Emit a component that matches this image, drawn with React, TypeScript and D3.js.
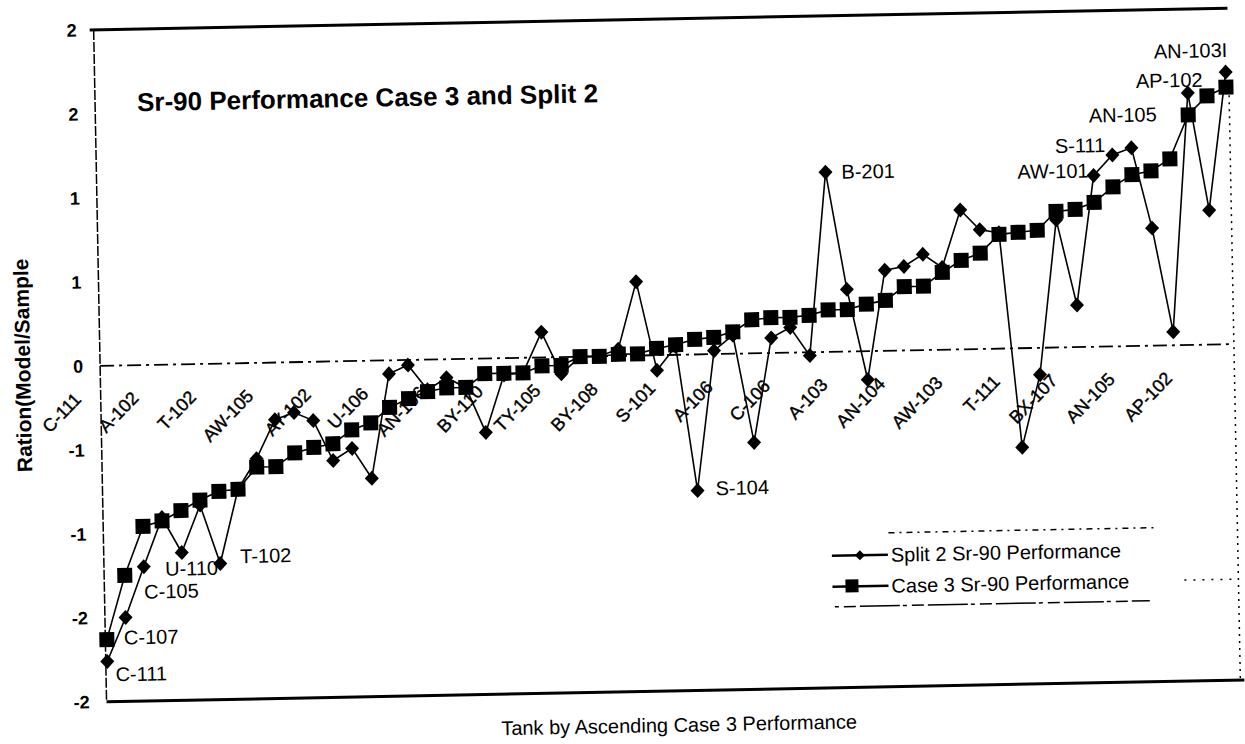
import * as d3 from 'd3';
import { useEffect, useRef } from 'react';

// tank names shown on the category axis (one every third tank)
const axisTanks = ['C-111', 'A-102', 'T-102', 'AW-105', 'AY-102', 'U-106', 'AN-106', 'BY-110', 'TY-105', 'BY-108',
  'S-101', 'A-106', 'C-106', 'A-103', 'AN-104', 'AW-103', 'T-111', 'BX-107', 'AN-105', 'AP-102'];
const labelEvery = 3;

// Case 3 ratio, tanks sorted ascending
const case3 = [-1.63, -1.25, -0.96, -0.93, -0.87, -0.81, -0.76, -0.75, -0.62, -0.62,
  -0.54, -0.51, -0.49, -0.41, -0.37, -0.28, -0.23, -0.19, -0.17, -0.17,
  -0.09, -0.09, -0.09, -0.05, -0.05, 0.0, 0.0, 0.01, 0.01, 0.04,
  0.06, 0.09, 0.1, 0.13, 0.2, 0.21, 0.21, 0.22, 0.25, 0.25,
  0.28, 0.3, 0.38, 0.38, 0.46, 0.53, 0.57, 0.68, 0.69, 0.7,
  0.81, 0.82, 0.86, 0.95, 1.02, 1.04, 1.11, 1.37, 1.48, 1.53];

// Split 2 ratio, same tank order
const split2 = [-1.76, -1.5, -1.2, -0.91, -1.12, -0.84, -1.19, -0.75, -0.57, -0.34,
  -0.3, -0.35, -0.59, -0.52, -0.7, -0.08, -0.03, -0.18, -0.11, -0.17,
  -0.44, -0.1, -0.09, 0.15, -0.1, 0.0, 0.0, 0.04, 0.44, -0.09,
  0.05, -0.81, 0.02, 0.11, -0.53, 0.09, 0.15, -0.02, 1.07, 0.37,
  -0.17, 0.48, 0.5, 0.57, 0.49, 0.83, 0.71, 0.69, -0.59, -0.16,
  0.76, 0.25, 1.02, 1.14, 1.18, 0.7, 0.08, 1.5, 0.8, 1.62];

// tanks written next to their Split 2 point
const namedPoints = [
  { idx: 0, name: 'C-111' }, { idx: 1, name: 'C-107' }, { idx: 2, name: 'C-105' },
  { idx: 4, name: 'U-110' }, { idx: 6, name: 'T-102' }, { idx: 31, name: 'S-104' },
  { idx: 38, name: 'B-201' }, { idx: 52, name: 'AW-101' }, { idx: 53, name: 'S-111' },
  { idx: 54, name: 'AN-105' }, { idx: 57, name: 'AP-102' }, { idx: 59, name: 'AN-103I' },
];

const yTicks = [-2, -1.5, -1, -0.5, 0, 0.5, 1, 1.5, 2];
const yTickText = ['-2', '-2', '-1', '-1', '0', '1', '1', '2', '2'];

const seriesNames = ['Split 2 Sr-90 Performance', 'Case 3 Sr-90 Performance'];

const FONT = '"Liberation Sans", Arial, sans-serif';

// where each point label sits relative to its diamond
const labelPlace: Record<string, [number, number, string]> = {
  'C-111': [8, 20, 'start'],
  'C-107': [-2, 27, 'start'],
  'C-105': [0, 32, 'start'],
  'U-110': [-17, 23, 'start'],
  'T-102': [20, 0, 'start'],
  'S-104': [18, 5, 'start'],
  'B-201': [16, 7, 'start'],
  'AW-101': [-5, 2, 'end'],
  'S-111': [-7, -3, 'end'],
  'AN-105': [-8, -26, 'middle'],
  'AP-102': [15, -6, 'end'],
  'AN-103I': [2, -15, 'end'],
};

const App = () => {
  const chartRef = useRef<SVGSVGElement>(null);

  const width = 1245;
  const height = 744;
  // plot box before the scan tilt is applied
  const margin = { top: 19, bottom: 53, left: 100, right: 11 };
  const boundsHeight = height - margin.top - margin.bottom;
  const tilt = -1.1;

  useEffect(() => {
    const svg = d3.select(chartRef.current);
    svg.selectAll('*').remove();

    svg.append('rect').attr('width', width).attr('height', height).attr('fill', '#fff');

    const g = svg.append('g').attr('transform', `rotate(${tilt}, 667, 355)`);

    const scaleX = d3.scaleLinear()
      .domain([0, case3.length - 1])
      .range([margin.left + 1.5, width - margin.right - 3]);
    const scaleY = d3.scaleLinear()
      .domain([-2, 2])
      .range([margin.top + boundsHeight, margin.top]);

    const x0 = margin.left;
    const x1 = width - margin.right;
    const yTop = scaleY(2);
    const yBot = scaleY(-2);
    const yZero = scaleY(0);

    // frame
    g.append('line').attr('x1', x0 - 4).attr('x2', x1).attr('y1', yTop).attr('y2', yTop)
      .attr('stroke', '#000').attr('stroke-width', 3);
    g.append('line').attr('x1', x0).attr('x2', x1 + 4).attr('y1', yBot).attr('y2', yBot)
      .attr('stroke', '#000').attr('stroke-width', 3);
    g.append('line').attr('x1', x0).attr('x2', x0).attr('y1', yTop).attr('y2', yBot)
      .attr('stroke', '#000').attr('stroke-width', 1.5).attr('stroke-dasharray', '10 2');
    g.append('line').attr('x1', x1).attr('x2', x1).attr('y1', yTop + 80).attr('y2', yBot)
      .attr('stroke', '#000').attr('stroke-width', 1.5).attr('stroke-dasharray', '2 5');

    // zero line = category axis
    g.append('line').attr('x1', x0).attr('x2', x1).attr('y1', yZero).attr('y2', yZero)
      .attr('stroke', '#000').attr('stroke-width', 1.8).attr('stroke-dasharray', '14 5 3 5');

    // y axis labels
    const yAxis = d3.axisLeft(scaleY)
      .tickValues(yTicks)
      .tickSize(0)
      .tickPadding(17)
      .tickFormat((d, i) => yTickText[i]);
    const ya = g.append('g').attr('transform', `translate(${x0}, 0)`).call(yAxis);
    ya.select('.domain').remove();
    ya.selectAll('text')
      .style('font-family', FONT).style('font-size', '18px').style('font-weight', 'bold').attr('fill', '#000');

    // category labels, every third tank, hanging below the zero line
    axisTanks.forEach((name, k) => {
      const cx = scaleX(k * labelEvery) - 20;
      const cy = yZero + 34;
      g.append('text')
        .attr('transform', `translate(${cx}, ${cy}) rotate(-45)`)
        .attr('text-anchor', 'end')
        .style('font-family', FONT)
        .style('font-size', '18px')
        .attr('fill', '#000')
        .attr('stroke', '#000').attr('stroke-width', 0.4)
        .text(name);
    });

    const diamond = 'M0,-7.5L7,0L0,7.5L-7,0Z';

    // Split 2 series
    const line = d3.line<number>().x((d, i) => scaleX(i)).y(d => scaleY(d));
    g.append('path').datum(split2).attr('d', line)
      .attr('fill', 'none').attr('stroke', '#000').attr('stroke-width', 1.6);
    g.selectAll('.dia').data(split2).enter().append('path')
      .attr('d', diamond)
      .attr('transform', (d, i) => `translate(${scaleX(i)}, ${scaleY(d)})`)
      .attr('fill', '#000');

    // Case 3 series on top
    g.append('path').datum(case3).attr('d', line)
      .attr('fill', 'none').attr('stroke', '#000').attr('stroke-width', 1.6);
    g.selectAll('.sq').data(case3).enter().append('rect')
      .attr('x', (d, i) => scaleX(i) - 7.5)
      .attr('y', d => scaleY(d) - 7.5)
      .attr('width', 15).attr('height', 15)
      .attr('fill', '#000');

    // point labels
    namedPoints.forEach(p => {
      const [dx, dy, anchor] = labelPlace[p.name];
      g.append('text')
        .attr('x', scaleX(p.idx) + dx)
        .attr('y', scaleY(split2[p.idx]) + dy)
        .attr('text-anchor', anchor)
        .style('font-family', FONT).style('font-size', '20px')
        .attr('fill', '#000')
        .text(p.name);
    });

    // title
    g.append('text')
      .attr('x', 142).attr('y', 101)
      .style('font-family', FONT).style('font-size', '26px').style('font-weight', 'bold')
      .text('Sr-90 Performance Case 3 and Split 2');

    // axis titles
    g.append('text')
      .attr('transform', 'translate(30, 353) rotate(-90)')
      .attr('text-anchor', 'middle')
      .style('font-family', FONT).style('font-size', '21px').style('font-weight', 'bold')
      .text('Ration(Model/Sample');
    g.append('text')
      .attr('x', 672).attr('y', 732)
      .attr('text-anchor', 'middle')
      .style('font-family', FONT).style('font-size', '20px')
      .text('Tank by Ascending Case 3  Performance');

    // legend
    const leg = g.append('g');
    leg.append('line').attr('x1', 885).attr('x2', 1153).attr('y1', 537).attr('y2', 537)
      .attr('stroke', '#000').attr('stroke-width', 1.5).attr('stroke-dasharray', '6 5 2 5');
    leg.append('line').attr('x1', 830).attr('x2', 1145).attr('y1', 610).attr('y2', 610)
      .attr('stroke', '#000').attr('stroke-width', 1.5).attr('stroke-dasharray', '4 5 12 4 40 3');
    leg.append('line').attr('x1', 1180).attr('x2', 1230).attr('y1', 590).attr('y2', 590)
      .attr('stroke', '#000').attr('stroke-width', 1.5).attr('stroke-dasharray', '2 7');
    seriesNames.forEach((name, i) => {
      const ly = 559 + i * 31;
      leg.append('line').attr('x1', 828).attr('x2', 884).attr('y1', ly).attr('y2', ly)
        .attr('stroke', '#000').attr('stroke-width', 2.5);
      if (i === 0) {
        leg.append('path').attr('d', 'M0,-5L5,0L0,5L-5,0Z')
          .attr('transform', `translate(856, ${ly})`).attr('fill', '#000');
      } else {
        leg.append('rect').attr('x', 841).attr('y', ly - 7).attr('width', 13).attr('height', 13)
          .attr('fill', '#000');
      }
      leg.append('text')
        .attr('x', 887).attr('y', ly + 7)
        .style('font-family', FONT).style('font-size', '20px')
        .text(name);
    });
  }, []);

  return (
    <svg ref={chartRef} width={width} height={height}
      style={{ position: 'absolute', left: 0, top: 0, display: 'block' }} />
  );
};

export default App;
